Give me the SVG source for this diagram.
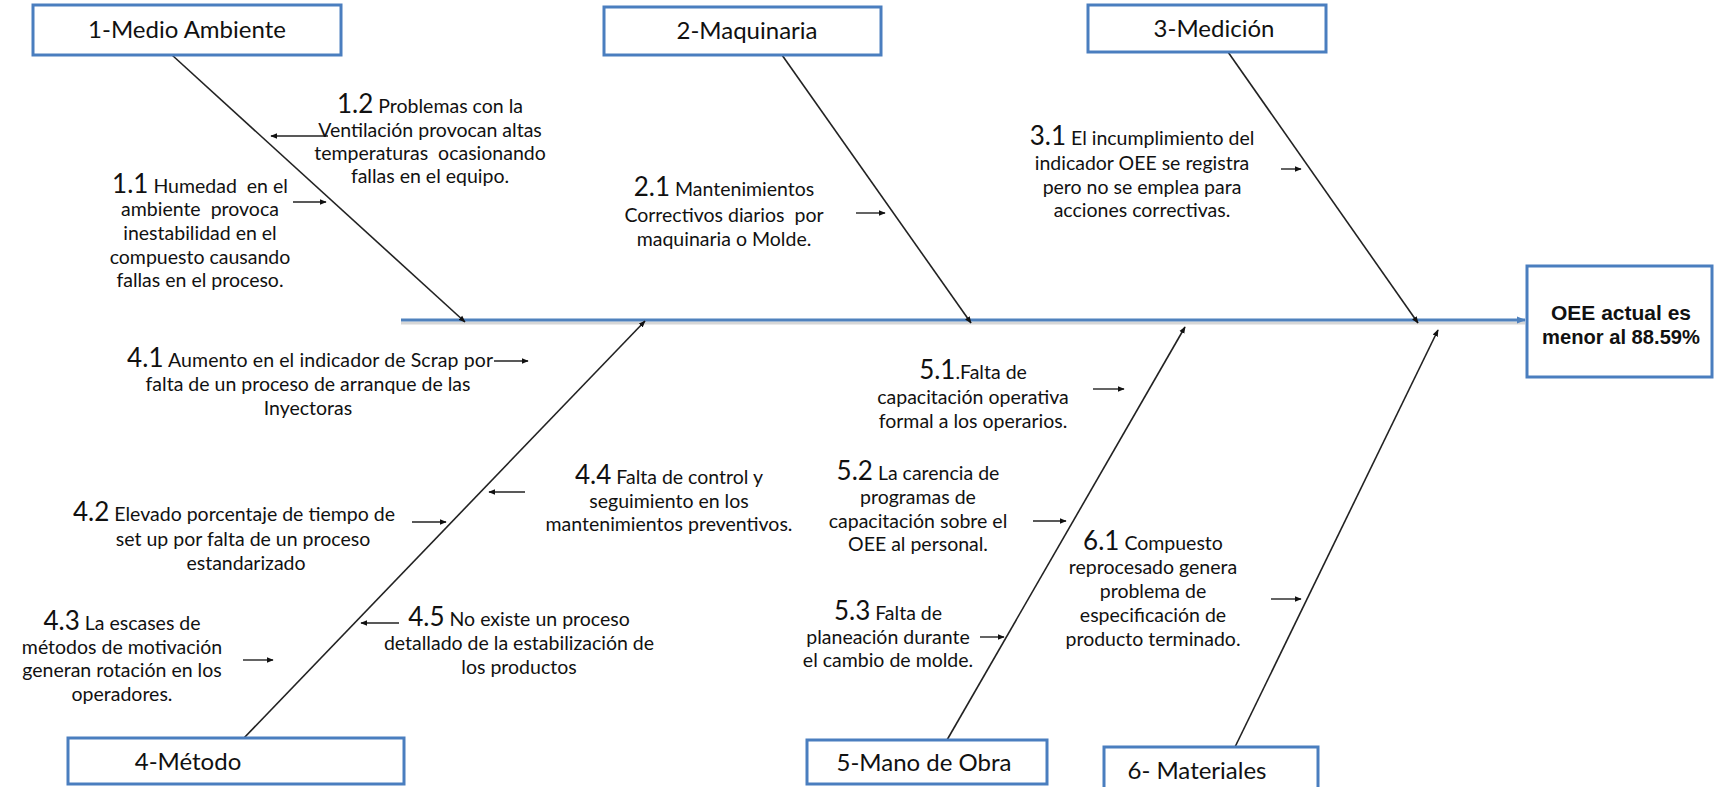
<svg xmlns="http://www.w3.org/2000/svg" width="1714" height="787" viewBox="0 0 1714 787">
  <defs>
    <marker id="tip" viewBox="0 0 10 10" refX="9" refY="5" markerWidth="7" markerHeight="7" markerUnits="userSpaceOnUse" orient="auto">
      <path d="M0,1 L10,5 L0,9 Z" fill="#111"/>
    </marker>
    <marker id="tipBlue" viewBox="0 0 10 10" refX="9" refY="5" markerWidth="9" markerHeight="9" markerUnits="userSpaceOnUse" orient="auto">
      <path d="M0,1 L10,5 L0,9 Z" fill="#4f81bd"/>
    </marker>
    <style>
      .box { fill: #fff; stroke: #4a7ebf; stroke-width: 3; }
      .head { font-family: Lato, "Liberation Sans", sans-serif; font-size: 24px; fill: #111; text-anchor: middle; }
      .txt { font-family: Lato, "Liberation Sans", sans-serif; font-size: 19.5px; fill: #111; text-anchor: middle; white-space: pre; }
      .n { font-size: 26px; }
      .eff { font-family: "Liberation Sans", Arial, sans-serif; font-weight: bold; font-size: 21px; fill: #111; text-anchor: middle; }
      .bone { stroke: #222; stroke-width: 1.6; fill: none; marker-end: url(#tip); }
      .cue { stroke: #222; stroke-width: 1.4; fill: none; marker-end: url(#tip); }
    </style>
  </defs>

  <rect width="1714" height="787" fill="#fff"/>

  <!-- spine and bones -->
  <g id="connectors">
    <line x1="401" y1="323" x2="1525" y2="323" stroke="#bbb" stroke-width="3" opacity="0.6"/>
    <line x1="401" y1="320" x2="1525" y2="320" stroke="#4f81bd" stroke-width="3" marker-end="url(#tipBlue)"/>

    <line class="bone" x1="172" y1="55" x2="465" y2="322"/>
    <line class="bone" x1="782" y1="55" x2="971" y2="323"/>
    <line class="bone" x1="1228" y1="52" x2="1418" y2="323"/>
    <line class="bone" x1="243" y1="739" x2="645" y2="321"/>
    <line class="bone" x1="947" y1="740" x2="1185" y2="327"/>
    <line class="bone" x1="1235" y1="747" x2="1438" y2="330"/>

    <!-- short cause arrows -->
    <line class="cue" x1="328" y1="136" x2="271" y2="136"/>
    <line class="cue" x1="293" y1="202" x2="326" y2="202"/>
    <line class="cue" x1="856" y1="213" x2="885" y2="213"/>
    <line class="cue" x1="1281" y1="169" x2="1301" y2="169"/>
    <line class="cue" x1="494" y1="361" x2="528" y2="361"/>
    <line class="cue" x1="525" y1="492" x2="489" y2="492"/>
    <line class="cue" x1="412" y1="522" x2="446" y2="522"/>
    <line class="cue" x1="243" y1="660" x2="273" y2="660"/>
    <line class="cue" x1="399" y1="623" x2="361" y2="623"/>
    <line class="cue" x1="1093" y1="389" x2="1124" y2="389"/>
    <line class="cue" x1="1033" y1="521" x2="1066" y2="521"/>
    <line class="cue" x1="980" y1="637" x2="1004" y2="637"/>
    <line class="cue" x1="1271" y1="599" x2="1301" y2="599"/>
  </g>

  <!-- category heads -->
  <g id="cat-1">
    <rect class="box" x="33" y="5" width="308" height="50"/>
    <text class="head" x="187" y="38">1-Medio Ambiente</text>
  </g>
  <g id="cat-2">
    <rect class="box" x="604" y="7" width="277" height="48"/>
    <text class="head" x="747" y="39">2-Maquinaria</text>
  </g>
  <g id="cat-3">
    <rect class="box" x="1088" y="5" width="238" height="47"/>
    <text class="head" x="1214" y="37">3-Medición</text>
  </g>
  <g id="cat-4">
    <rect class="box" x="68" y="738" width="336" height="46"/>
    <text class="head" x="188" y="770">4-Método</text>
  </g>
  <g id="cat-5">
    <rect class="box" x="807" y="740" width="240" height="44"/>
    <text class="head" x="924" y="771">5-Mano de Obra</text>
  </g>
  <g id="cat-6">
    <rect class="box" x="1104" y="747" width="214" height="45"/>
    <text class="head" x="1197" y="779">6- Materiales</text>
  </g>

  <!-- effect -->
  <g id="effect">
    <rect class="box" x="1527" y="266" width="185" height="111"/>
    <text class="eff" x="1621" y="320" textLength="140" lengthAdjust="spacingAndGlyphs">OEE actual es</text>
    <text class="eff" x="1621" y="344" textLength="158" lengthAdjust="spacingAndGlyphs">menor al 88.59%</text>
  </g>

  <!-- causes -->
  <g id="c-1-2">
    <text class="txt" x="430" y="113"><tspan class="n">1.2</tspan> Problemas con la</text>
    <text class="txt" x="430" y="137">Ventilación provocan altas</text>
    <text class="txt" x="430" y="160">temperaturas  ocasionando</text>
    <text class="txt" x="430" y="183">fallas en el equipo.</text>
  </g>
  <g id="c-1-1">
    <text class="txt" x="200" y="193"><tspan class="n">1.1</tspan> Humedad  en el</text>
    <text class="txt" x="200" y="216">ambiente  provoca</text>
    <text class="txt" x="200" y="240">inestabilidad en el</text>
    <text class="txt" x="200" y="264">compuesto causando</text>
    <text class="txt" x="200" y="287">fallas en el proceso.</text>
  </g>
  <g id="c-2-1">
    <text class="txt" x="724" y="196"><tspan class="n">2.1</tspan> Mantenimientos</text>
    <text class="txt" x="724" y="222">Correctivos diarios  por</text>
    <text class="txt" x="724" y="246">maquinaria o Molde.</text>
  </g>
  <g id="c-3-1">
    <text class="txt" x="1142" y="145"><tspan class="n">3.1</tspan> El incumplimiento del</text>
    <text class="txt" x="1142" y="170">indicador OEE se registra</text>
    <text class="txt" x="1142" y="194">pero no se emplea para</text>
    <text class="txt" x="1142" y="217">acciones correctivas.</text>
  </g>
  <g id="c-4-1">
    <text class="txt" x="310" y="367" textLength="366" lengthAdjust="spacing"><tspan class="n">4.1</tspan> Aumento en el indicador de Scrap por</text>
    <text class="txt" x="308" y="391">falta de un proceso de arranque de las</text>
    <text class="txt" x="308" y="415">Inyectoras</text>
  </g>
  <g id="c-4-4">
    <text class="txt" x="669" y="484"><tspan class="n">4.4</tspan> Falta de control y</text>
    <text class="txt" x="669" y="508">seguimiento en los</text>
    <text class="txt" x="669" y="531">mantenimientos preventivos.</text>
  </g>
  <g id="c-4-2">
    <text class="txt" x="234" y="521"><tspan class="n">4.2</tspan> Elevado porcentaje de tiempo de</text>
    <text class="txt" x="243" y="546">set up por falta de un proceso</text>
    <text class="txt" x="246" y="570">estandarizado</text>
  </g>
  <g id="c-4-3">
    <text class="txt" x="122" y="630"><tspan class="n">4.3</tspan> La escases de</text>
    <text class="txt" x="122" y="654">métodos de motivación</text>
    <text class="txt" x="122" y="677">generan rotación en los</text>
    <text class="txt" x="122" y="701">operadores.</text>
  </g>
  <g id="c-4-5">
    <text class="txt" x="519" y="626"><tspan class="n">4.5</tspan> No existe un proceso</text>
    <text class="txt" x="519" y="650">detallado de la estabilización de</text>
    <text class="txt" x="519" y="674">los productos</text>
  </g>
  <g id="c-5-1">
    <text class="txt" x="973" y="379"><tspan class="n">5.1</tspan>.Falta de</text>
    <text class="txt" x="973" y="404">capacitación operativa</text>
    <text class="txt" x="973" y="428">formal a los operarios.</text>
  </g>
  <g id="c-5-2">
    <text class="txt" x="918" y="480"><tspan class="n">5.2</tspan> La carencia de</text>
    <text class="txt" x="918" y="504">programas de</text>
    <text class="txt" x="918" y="528">capacitación sobre el</text>
    <text class="txt" x="918" y="551">OEE al personal.</text>
  </g>
  <g id="c-5-3">
    <text class="txt" x="888" y="620"><tspan class="n">5.3</tspan> Falta de</text>
    <text class="txt" x="888" y="644">planeación durante</text>
    <text class="txt" x="888" y="667">el cambio de molde.</text>
  </g>
  <g id="c-6-1">
    <text class="txt" x="1153" y="550"><tspan class="n">6.1</tspan> Compuesto</text>
    <text class="txt" x="1153" y="574">reprocesado genera</text>
    <text class="txt" x="1153" y="598">problema de</text>
    <text class="txt" x="1153" y="622">especificación de</text>
    <text class="txt" x="1153" y="646">producto terminado.</text>
  </g>
</svg>
